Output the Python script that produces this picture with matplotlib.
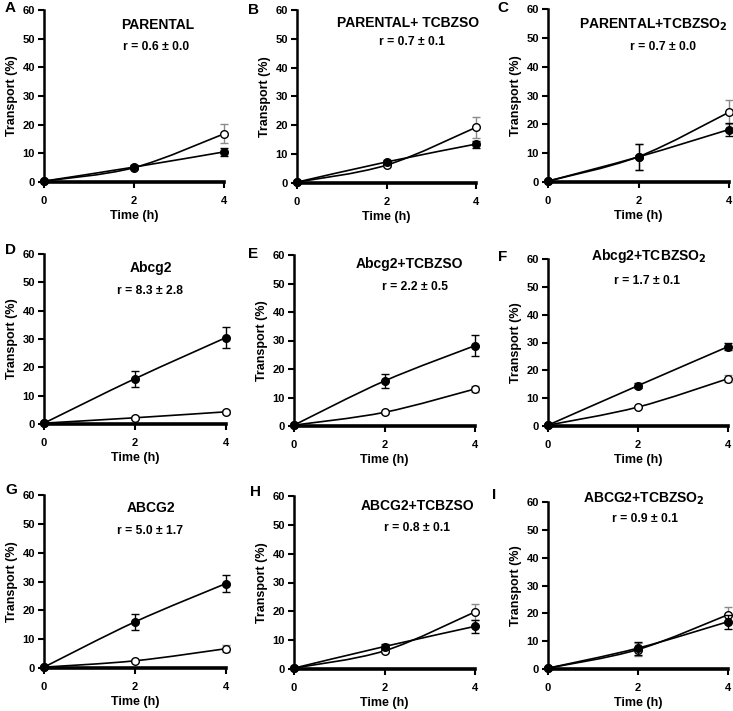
import numpy as np
import matplotlib
matplotlib.use('Agg')
import matplotlib.pyplot as plt
from matplotlib.path import Path
from matplotlib.patches import PathPatch

plt.rcParams['font.family'] = ['Liberation Sans', 'DejaVu Sans']
plt.rcParams['font.weight'] = 'bold'

time_h = [0, 2, 4]

letters = ['A', 'B', 'C', 'D', 'E', 'F', 'G', 'H', 'I']
titles = ['PARENTAL', 'PARENTAL+ TCBZSO', r'PARENTAL+TCBZSO$_\mathbf{2}$',
          'Abcg2', 'Abcg2+TCBZSO', r'Abcg2+TCBZSO$_\mathbf{2}$',
          'ABCG2', 'ABCG2+TCBZSO', r'ABCG2+TCBZSO$_\mathbf{2}$']
ratios = ['r = 0.6 \u00b1 0.0', 'r = 0.7 \u00b1 0.1', 'r = 0.7 \u00b1 0.0',
          'r = 8.3 \u00b1 2.8', 'r = 2.2 \u00b1 0.5', 'r = 1.7 \u00b1 0.1',
          'r = 5.0 \u00b1 1.7', 'r = 0.8 \u00b1 0.1', 'r = 0.9 \u00b1 0.1']

# filled circles (black) and open circles, mean and error per panel
filled_mean = [[0.3, 5.2, 10.5], [0.3, 7.3, 13.5], [0.3, 8.7, 18.2],
               [0.3, 16.0, 30.5], [0.3, 15.8, 28.2], [0.3, 14.5, 28.5],
               [0.3, 16.0, 29.3], [0.3, 7.8, 14.8], [0.3, 7.5, 17.0]]
filled_err = [[0, 0.6, 1.5], [0, 0.8, 1.2], [0, 4.5, 2.3],
              [0, 2.8, 3.6], [0, 2.5, 3.8], [0, 1.0, 1.2],
              [0, 2.7, 2.8], [0, 0.8, 2.2], [0, 2.3, 2.5]]
open_mean = [[0.3, 5.0, 16.8], [0.3, 6.2, 19.3], [0.3, 8.8, 24.2],
             [0.3, 2.2, 4.3], [0.3, 4.8, 13.0], [0.3, 6.8, 17.0],
             [0.3, 2.5, 6.7], [0.3, 6.3, 19.8], [0.3, 7.0, 19.5]]
open_err = [[0, 0.5, 3.3], [0, 0.8, 3.7], [0, 4.5, 4.2],
            [0, 0.5, 0.8], [0, 0.5, 1.2], [0, 0.5, 1.3],
            [0, 0.5, 1.2], [0, 0.8, 2.8], [0, 2.5, 2.8]]

# axes boxes in pixels: (left, top, right, bottom)
boxes = [(44, 10, 224, 182), (297, 10, 476, 183), (548, 9, 729, 182),
         (44, 254, 226, 424), (294, 255, 475, 426), (548, 259, 728, 426),
         (44, 495, 226, 668), (294, 496, 475, 669), (548, 502, 728, 669)]
title_pos = [(0.63, 0.91), (0.62, 0.925), (0.58, 0.91),
             (0.585, 0.92), (0.64, 0.95), (0.56, 1.02),
             (0.585, 0.925), (0.68, 0.94), (0.53, 1.02)]
ratio_pos = [(0.62, 0.785), (0.64, 0.815), (0.635, 0.78),
             (0.585, 0.78), (0.67, 0.81), (0.55, 0.87),
             (0.585, 0.79), (0.68, 0.815), (0.54, 0.9)]
letter_pos = [(5, 8), (248, 10), (497, 8), (5, 250), (248, 254), (498, 257),
              (5, 490), (250, 492), (492, 495)]

W, H = 733, 711


def smooth_path(x, y):
    # Excel-style smoothed line through the points
    p = np.column_stack([x, y]).astype(float)
    n = len(p)
    verts = [p[0]]
    codes = [Path.MOVETO]
    for i in range(n - 1):
        pm = p[i - 1] if i > 0 else p[i]
        pp = p[i + 2] if i + 2 < n else p[i + 1]
        c1 = p[i] + (p[i + 1] - pm) / 6
        c2 = p[i + 1] - (pp - p[i]) / 6
        verts += [c1, c2, p[i + 1]]
        codes += [Path.CURVE4] * 3
    return Path(verts, codes)


fig = plt.figure(figsize=(W / 100, H / 100), dpi=100)

for k in range(9):
    l, t, r, b = boxes[k]
    ax = fig.add_axes([l / W, 1 - b / H, (r - l) / W, (b - t) / H])
    ax.set_xlim(0, 4)
    ax.set_ylim(0, 60)
    for side in ['top', 'right']:
        ax.spines[side].set_visible(False)
    ax.spines['left'].set_linewidth(1.8)
    ax.spines['bottom'].set_linewidth(2.6)
    ax.set_xticks(time_h)
    ax.set_yticks(range(0, 61, 10))
    ax.tick_params(axis='both', direction='out', width=1.5, length=4,
                   labelsize=8, pad=2.5)
    ax.tick_params(axis='x', pad=6)
    for lab in ax.get_xticklabels() + ax.get_yticklabels():
        lab.set_fontweight('bold')
    ax.set_xlabel('Time (h)', fontsize=9, fontweight='bold', labelpad=3)
    ax.set_ylabel('Transport (%)', fontsize=9, fontweight='bold', labelpad=3)

    for mean in (filled_mean[k], open_mean[k]):
        ax.add_patch(PathPatch(smooth_path(time_h, mean), fill=False,
                               edgecolor='black', lw=1.2, clip_on=False,
                               zorder=2))
    ax.errorbar(time_h, open_mean[k], yerr=open_err[k], fmt='none',
                ecolor='#8a8a8a', elinewidth=1.0, capsize=3, capthick=1.0,
                clip_on=False, zorder=3)
    ax.plot(time_h, open_mean[k], 'o', ms=5.5, mfc='white', mec='black',
            mew=1.0, clip_on=False, zorder=4)
    ax.errorbar(time_h, filled_mean[k], yerr=filled_err[k], fmt='none',
                ecolor='black', elinewidth=1.0, capsize=3, capthick=1.0,
                clip_on=False, zorder=5)
    ax.plot(time_h, filled_mean[k], 'o', ms=5.5, mfc='black', mec='black',
            clip_on=False, zorder=6)

    ax.text(*title_pos[k], titles[k], transform=ax.transAxes, ha='center',
            va='center', fontsize=10, fontweight='bold')
    ax.text(*ratio_pos[k], ratios[k], transform=ax.transAxes, ha='center',
            va='center', fontsize=8.7, fontweight='bold')
    lx, ly = letter_pos[k]
    fig.text(lx / W, 1 - ly / H, letters[k], ha='left', va='center',
             fontsize=11, fontweight='bold')

fig.savefig('out.png', dpi=100)
